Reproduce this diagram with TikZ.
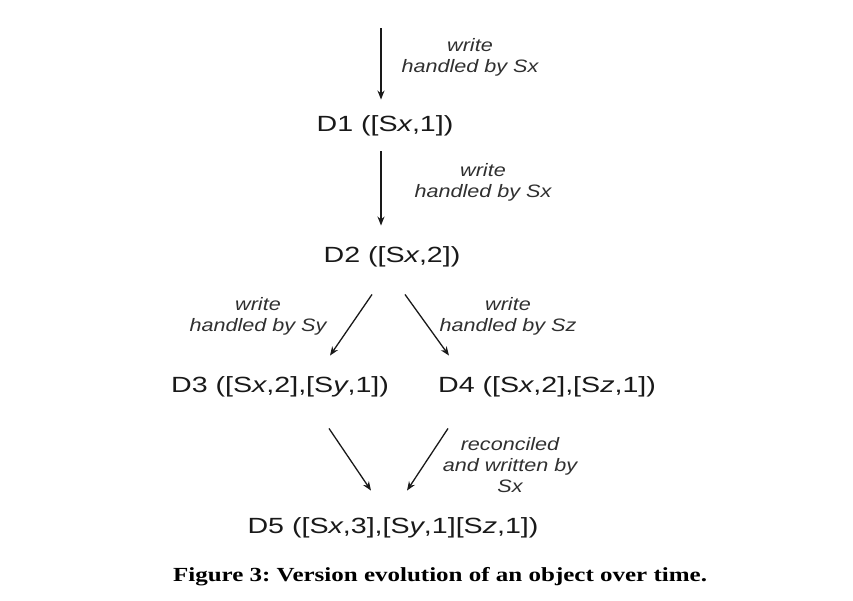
\documentclass[tikz,border=0pt]{standalone}
\usepackage{fontspec}
\setmainfont{Liberation Sans}
\newfontfamily\vfont[FakeStretch=1.3]{Liberation Sans}
\newfontfamily\lfont[FakeStretch=1.2]{Liberation Sans}
\newfontfamily\capfont[FakeStretch=1.25]{Liberation Serif}
\usetikzlibrary{arrows.meta, positioning}
\definecolor{ink}{RGB}{25, 25, 25}

\begin{document}
\begin{tikzpicture}[
    x=1pt, y=-1pt,
    version/.style={inner sep=0pt, text=ink, font=\vfont\fontsize{22}{26}\selectfont},
    note/.style={inner sep=0pt, align=center, text=ink!90, font=\lfont\itshape\fontsize{18}{21}\selectfont},
    arrow/.style={line width=1.3pt, -{Stealth[length=9pt, width=7pt]}, color=ink}
]
\useasboundingbox (0,0) rectangle (853,600);

\coordinate (top) at (381,28);
\node[version] (d1) at (385,126) {D1 ([S\textit{x},1])};
\node[version] (d2) at (392,257) {D2 ([S\textit{x},2])};
\node[version] (d3) at (280,387) {D3 ([S\textit{x},2],[S\textit{y},1])};
\node[version] (d4) at (547,387) {D4 ([S\textit{x},2],[S\textit{z},1])};
\node[version] (d5) at (393,528) {D5 ([S\textit{x},3],[S\textit{y},1][S\textit{z},1])};

\node[note] (w1) at (470,57.5) {write\\handled by Sx};
\node[note] (w2) at (483,182) {write\\handled by Sx};
\node[note] (w3) at (258,316.5) {write\\handled by Sy};
\node[note] (w4) at (508,316.5) {write\\handled by Sz};
\node[note] (w5) at (510,465) {reconciled\\and written by\\Sx};

\node[inner sep=0pt, font=\capfont\bfseries\fontsize{20}{24}\selectfont] (cap) at (440,577)
    {\frenchspacing Figure 3: Version evolution of an object over time.};

% edges
\draw[arrow, shorten >=16pt] (top) -- (top |- d1.north);
\draw[arrow, shorten <=15pt, shorten >=21pt] (top |- d1.south) -- (top |- d2.north);
\draw[arrow] ([xshift=-20pt, yshift=-27pt]d2.south) -- ([xshift=50pt, yshift=21pt]d3.north);
\draw[arrow] ([xshift=13pt, yshift=-27pt]d2.south) -- ([xshift=-98pt, yshift=21pt]d4.north);
\draw[arrow] ([xshift=49pt, yshift=-31pt]d3.south) -- ([xshift=-22pt, yshift=27pt]d5.north);
\draw[arrow] ([xshift=-99pt, yshift=-31pt]d4.south) -- ([xshift=14pt, yshift=27pt]d5.north);
\end{tikzpicture}
\end{document}
